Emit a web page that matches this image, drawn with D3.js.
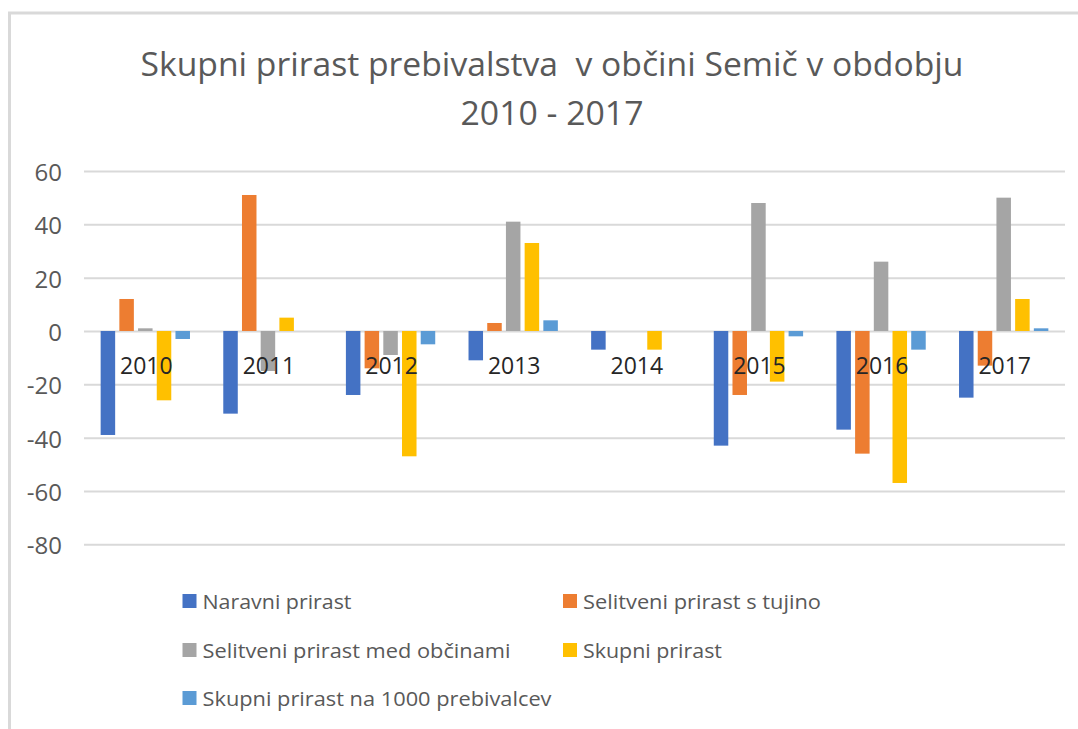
<!DOCTYPE html>
<html>
<head>
<meta charset="utf-8">
<script src="https://cdn.jsdelivr.net/npm/d3@7"></script>
<style>
  html, body { margin: 0; padding: 0; background: #fff; }
  svg { display: block; }
  text { font-family: "Open Sans", "Noto Sans", sans-serif; white-space: pre; }
</style>
</head>
<body>
<svg id="chart" width="1078" height="729"></svg>
<script>
// ---- data ----
const categories = ["2010", "2011", "2012", "2013", "2014", "2015", "2016", "2017"];
const seriesNames = [
  "Naravni prirast",
  "Selitveni prirast s tujino",
  "Selitveni prirast med občinami",
  "Skupni prirast",
  "Skupni prirast na 1000 prebivalcev"
];
const naravni      = [-39, -31, -24, -11, -7, -43, -37, -25];
const sTujino      = [12, 51, -14, 3, 0, -24, -46, -13];
const medObcinami  = [1, -15, -9, 41, 0, 48, 26, 50];
const skupni       = [-26, 5, -47, 33, -7, -19, -57, 12];
const na1000       = [-3, 0, -5, 4, 0, -2, -7, 1];
const yTicks = [-80, -60, -40, -20, 0, 20, 40, 60];
const titleLines = ["Skupni prirast prebivalstva  v občini Semič v obdobju", "2010 - 2017"];

const seriesValues = [naravni, sTujino, medObcinami, skupni, na1000];
const colors = ["#4472C4", "#ED7D31", "#A5A5A5", "#FFC000", "#5B9BD5"];

// ---- layout ----
const svg = d3.select("#chart");
const plotLeft = 84, plotRight = 1065;

// chart border (top and left visible)
svg.append("line").attr("x1", 8).attr("x2", 1078).attr("y1", 13).attr("y2", 13)
  .attr("stroke", "#d9d9d9").attr("stroke-width", 3);
svg.append("line").attr("x1", 9.5).attr("x2", 9.5).attr("y1", 12).attr("y2", 729)
  .attr("stroke", "#d9d9d9").attr("stroke-width", 3);

// title
const titleWidths = [823, 183];
const titleY = [63, 112];
svg.selectAll("text.title").data(titleLines).join("text")
  .attr("class", "title")
  .attr("x", 552)
  .attr("y", (d, i) => titleY[i])
  .attr("text-anchor", "middle")
  .attr("dominant-baseline", "central")
  .attr("font-size", 33)
  .attr("fill", "#595959")
  .attr("textLength", (d, i) => titleWidths[i])
  .attr("lengthAdjust", "spacingAndGlyphs")
  .text(d => d);

// scales
const y = d3.scaleLinear().domain([-80, 60]).range([544.3, 171]);
const x0 = d3.scaleBand().domain(categories).range([plotLeft, plotRight]).paddingInner(0).paddingOuter(0);
const x1 = d3.scaleBand().domain(d3.range(seriesNames.length)).range([0, x0.bandwidth()])
  .paddingInner(0.2246).paddingOuter(0.89);

// y axis with gridlines
const yAxis = d3.axisLeft(y).tickValues(yTicks)
  .tickSize(-(plotRight - plotLeft)).tickPadding(22)
  .tickFormat(d => String(d));
const gy = svg.append("g").attr("transform", `translate(${plotLeft},0)`).call(yAxis);
gy.select(".domain").remove();
gy.selectAll(".tick line").attr("stroke", "#d9d9d9").attr("stroke-width", 2);
gy.selectAll(".tick text")
  .attr("font-family", "'Open Sans', sans-serif")
  .attr("font-size", 24).attr("fill", "#595959")
  .attr("dy", null).attr("dominant-baseline", "central");

// bars
const groups = svg.append("g").selectAll("g").data(categories).join("g")
  .attr("transform", d => `translate(${x0(d)},0)`);
groups.selectAll("rect")
  .data((c, ci) => seriesValues.map((vals, si) => ({ si, v: vals[ci] })))
  .join("rect")
  .attr("x", d => x1(d.si))
  .attr("width", x1.bandwidth())
  .attr("y", d => y(Math.max(0, d.v)))
  .attr("height", d => Math.abs(y(d.v) - y(0)))
  .attr("fill", d => colors[d.si]);

// category labels (next to axis, drawn on top)
svg.append("g").selectAll("text").data(categories).join("text")
  .attr("x", d => x0(d) + x0.bandwidth() / 2 + 1)
  .attr("y", 365)
  .attr("text-anchor", "middle")
  .attr("dominant-baseline", "central")
  .attr("font-size", 23)
  .attr("fill", "#262626")
  .text(d => d);

// legend
const legendPos = [
  { x: 182.5, y: 601, w: 149 },
  { x: 563, y: 601, w: 238 },
  { x: 182.5, y: 650, w: 308 },
  { x: 563, y: 650, w: 139 },
  { x: 182.5, y: 698, w: 349 }
];
const lg = svg.append("g").selectAll("g").data(seriesNames).join("g")
  .attr("transform", (d, i) => `translate(${legendPos[i].x},${legendPos[i].y})`);
lg.append("rect").attr("x", 0).attr("y", -7).attr("width", 14).attr("height", 14)
  .attr("fill", (d, i) => colors[i]);
lg.append("text").attr("x", 20).attr("y", 0)
  .attr("dominant-baseline", "central")
  .attr("font-size", 20).attr("fill", "#595959")
  .attr("textLength", (d, i) => legendPos[i].w)
  .attr("lengthAdjust", "spacingAndGlyphs")
  .text(d => d);
</script>
</body>
</html>
